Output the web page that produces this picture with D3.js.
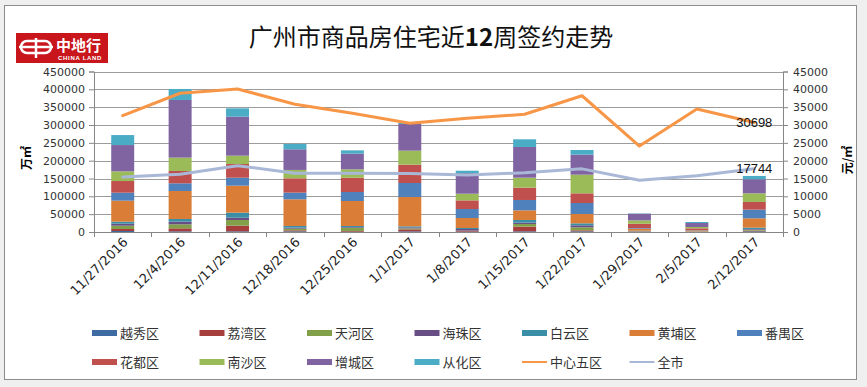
<!DOCTYPE html>
<html>
<head>
<meta charset="utf-8">
<script src="https://cdn.jsdelivr.net/npm/d3@7"></script>
<style>
  body { margin: 0; background: #efefef; }
  svg { display: block; }
</style>
</head>
<body>
<svg id="chart"></svg>
<script>
// week labels
let dates = ['11/27/2016', '12/4/2016', '12/11/2016', '12/18/2016', '12/25/2016', '1/1/2017',
             '1/8/2017', '1/15/2017', '1/22/2017', '1/29/2017', '2/5/2017', '2/12/2017'];

// signed area per district (m2), bottom to top of each stack
let yuexiu    = [2800, 1900, 1900, 1900, 900, 1900, 900, 1900, 1900, 500, 300, 1900];
let liwan     = [5600, 8400, 15900, 2800, 1900, 5600, 1900, 13100, 2800, 900, 500, 1900];
let tianhe    = [9300, 11200, 15900, 4700, 9300, 2800, 900, 7500, 8400, 900, 500, 2800];
let haizhu    = [5600, 7500, 6500, 2800, 1900, 2800, 4700, 3700, 5600, 900, 300, 1900];
let baiyun    = [5600, 7500, 14000, 4700, 2800, 2800, 2800, 7500, 5600, 500, 300, 3700];
let huangpu   = [58900, 78500, 75700, 74800, 70100, 82200, 28000, 27100, 26200, 5600, 2800, 26200];
let panyu     = [22400, 21500, 22400, 18700, 25200, 39300, 25200, 29000, 30800, 1900, 900, 24300];
let huadu     = [32700, 34600, 38300, 40200, 40200, 51400, 24300, 34600, 27100, 12100, 4700, 21500];
let nansha    = [27100, 37400, 23400, 23400, 23400, 39300, 18700, 28000, 52300, 9300, 3700, 24300];
let zengcheng = [73800, 161700, 109300, 57900, 43900, 74800, 57900, 86000, 56100, 18700, 11200, 39300];
let conghua   = [28000, 30800, 23400, 15000, 9300, 2800, 6500, 21500, 13100, 900, 2800, 9300];

// average price (yuan/m2)
let core5 = [32600, 38900, 40100, 35800, 33300, 30500, 31900, 33000, 38200, 24100, 34500, 30698];
let city  = [15400, 16200, 18600, 16500, 16500, 16400, 16000, 16600, 17700, 14500, 15800, 17744];

let leftTicks  = [0, 50000, 100000, 150000, 200000, 250000, 300000, 350000, 400000, 450000];
let rightTicks = [0, 5000, 10000, 15000, 20000, 25000, 30000, 35000, 40000, 45000];

let barSeries = [
  { name: '越秀区', values: yuexiu,    color: '#3f6ba3' },
  { name: '荔湾区', values: liwan,     color: '#a63f3c' },
  { name: '天河区', values: tianhe,    color: '#82a04a' },
  { name: '海珠区', values: haizhu,    color: '#674f86' },
  { name: '白云区', values: baiyun,    color: '#3a8fa7' },
  { name: '黄埔区', values: huangpu,   color: '#d97d37' },
  { name: '番禺区', values: panyu,     color: '#4f81bd' },
  { name: '花都区', values: huadu,     color: '#c0504d' },
  { name: '南沙区', values: nansha,    color: '#9bbb59' },
  { name: '增城区', values: zengcheng, color: '#8064a2' },
  { name: '从化区', values: conghua,   color: '#4bacc6' }
];
let lineSeries = [
  { name: '中心五区', values: core5, color: '#f79646' },
  { name: '全市',     values: city,  color: '#a8b8d6' }
];

let width = 867;
let height = 387;
let plotLeft = 94, plotRight = 783, plotTop = 71.5, plotBottom = 232;

let svg = d3.select('#chart').attr('width', width).attr('height', height);

// chart frame
svg.append('rect')
   .attr('x', 4.5).attr('y', 5.5)
   .attr('width', 852).attr('height', 374)
   .attr('fill', '#fff')
   .attr('stroke', '#8c8c8c');

// logo
let logo = svg.append('g').attr('transform', 'translate(16,33)');
logo.append('rect').attr('width', 92).attr('height', 30).attr('fill', '#c9161c');
logo.append('rect').attr('x', 5).attr('y', 8).attr('width', 30).attr('height', 12).attr('rx', 6)
    .attr('fill', 'none').attr('stroke', '#fff').attr('stroke-width', 2.5);
logo.append('line').attr('x1', 3).attr('x2', 37).attr('y1', 14).attr('y2', 14)
    .attr('stroke', '#fff').attr('stroke-width', 2.5);
logo.append('line').attr('x1', 20).attr('x2', 20).attr('y1', 5).attr('y2', 25)
    .attr('stroke', '#fff').attr('stroke-width', 2.5);
logo.append('text').attr('x', 40).attr('y', 17.5)
    .attr('fill', '#fff').attr('font-family', 'Noto Sans CJK SC').attr('font-weight', 'bold')
    .attr('font-size', 15).text('中地行');
logo.append('text').attr('x', 42).attr('y', 27)
    .attr('fill', '#fff').attr('font-family', 'Liberation Sans').attr('font-weight', 'bold')
    .attr('font-size', 6).attr('letter-spacing', 0.7).text('CHINA LAND');

// title
svg.append('text')
   .attr('x', 431).attr('y', 46)
   .attr('text-anchor', 'middle')
   .attr('font-family', 'Noto Sans CJK SC')
   .attr('font-size', 24)
   .attr('fill', '#111')
   .html('广州市商品房住宅近<tspan font-weight="bold">12</tspan>周签约走势');

// scales
let xScale = d3.scaleBand().domain(dates).range([plotLeft, plotRight]).padding(0);
let yLeft = d3.scaleLinear().domain([0, 450000]).range([plotBottom, plotTop]);
let yRight = d3.scaleLinear().domain([0, 45000]).range([plotBottom, plotTop]);
let bw = xScale.bandwidth() * 0.4;
let cx = (d) => xScale(d) + xScale.bandwidth() / 2;

// gridlines
svg.append('g')
   .selectAll('line')
   .data(leftTicks.slice(1))
   .enter()
   .append('line')
   .attr('x1', plotLeft).attr('x2', plotRight)
   .attr('y1', (d) => Math.round(yLeft(d)) + 0.5)
   .attr('y2', (d) => Math.round(yLeft(d)) + 0.5)
   .attr('stroke', '#9c9c9c');

// stacked bars
let table = dates.map((d, i) => {
  let row = { date: d };
  barSeries.forEach((s) => { row[s.name] = s.values[i]; });
  return row;
});
let stack = d3.stack().keys(barSeries.map((s) => s.name));
let layers = stack(table);

svg.append('g')
   .selectAll('g')
   .data(layers)
   .enter()
   .append('g')
   .attr('fill', (layer, i) => barSeries[i].color)
   .selectAll('rect')
   .data((layer) => layer)
   .enter()
   .append('rect')
   .attr('x', (d) => cx(d.data.date) - bw / 2)
   .attr('width', bw)
   .attr('y', (d) => yLeft(d[1]))
   .attr('height', (d) => yLeft(d[0]) - yLeft(d[1]));

// axes
let fmt = d3.format('d');
let axisLeft = d3.axisLeft(yLeft).tickValues(leftTicks).tickFormat(fmt).tickSize(5).tickPadding(4);
let axisRight = d3.axisRight(yRight).tickValues(rightTicks).tickFormat(fmt).tickSize(5).tickPadding(5);
let axisBottom = d3.axisBottom(xScale).tickSize(0).tickFormat('');

let gL = svg.append('g').attr('transform', 'translate(' + plotLeft + ',0)').call(axisLeft);
let gR = svg.append('g').attr('transform', 'translate(' + plotRight + ',0)').call(axisRight);
let gB = svg.append('g').attr('transform', 'translate(0,' + plotBottom + ')').call(axisBottom);

[gL, gR].forEach((g) => {
  g.select('.domain').attr('stroke', '#868686');
  g.selectAll('.tick line').attr('stroke', '#868686');
  g.selectAll('.tick text')
   .attr('font-family', 'DejaVu Sans')
   .attr('font-size', 11)
   .attr('fill', '#333');
});
gB.select('.domain').attr('stroke', '#868686');

// category separators on x axis
svg.append('g')
   .selectAll('line')
   .data(dates.concat(['end']))
   .enter()
   .append('line')
   .attr('x1', (d, i) => Math.round(plotLeft + i * xScale.step()) + 0.5)
   .attr('x2', (d, i) => Math.round(plotLeft + i * xScale.step()) + 0.5)
   .attr('y1', plotBottom)
   .attr('y2', plotBottom + 5)
   .attr('stroke', '#868686');

// rotated date labels
svg.append('g')
   .selectAll('text')
   .data(dates)
   .enter()
   .append('text')
   .attr('transform', (d) => 'translate(' + (cx(d) + 6) + ',' + (plotBottom + 11) + ') rotate(-45)')
   .attr('text-anchor', 'end')
   .attr('font-family', 'DejaVu Sans')
   .attr('font-size', 13)
   .attr('fill', '#222')
   .text((d) => d);

// lines on right axis
let line = d3.line()
             .x((d, i) => cx(dates[i]))
             .y((d) => yRight(d));

svg.append('g')
   .selectAll('path')
   .data(lineSeries)
   .enter()
   .append('path')
   .attr('d', (s) => line(s.values))
   .attr('fill', 'none')
   .attr('stroke', (s) => s.color)
   .attr('stroke-width', 3)
   .attr('stroke-linejoin', 'round')
   .attr('stroke-linecap', 'round');

// value labels at the last week
let last = dates[dates.length - 1];
svg.append('g')
   .selectAll('text')
   .data(lineSeries)
   .enter()
   .append('text')
   .attr('x', cx(last))
   .attr('y', (s) => yRight(s.values[s.values.length - 1]))
   .attr('dy', '0.35em')
   .attr('text-anchor', 'middle')
   .attr('font-family', 'Liberation Sans')
   .attr('font-size', 13)
   .attr('fill', '#111')
   .text((s) => s.values[s.values.length - 1]);

// axis titles
svg.append('text')
   .attr('transform', 'translate(31,158) rotate(-90)')
   .attr('text-anchor', 'middle')
   .attr('font-family', 'Noto Sans CJK SC')
   .attr('font-weight', 'bold')
   .attr('font-size', 12)
   .text('万㎡');
svg.append('text')
   .attr('transform', 'translate(852,160) rotate(-90)')
   .attr('text-anchor', 'middle')
   .attr('font-family', 'Noto Sans CJK SC')
   .attr('font-weight', 'bold')
   .attr('font-size', 12)
   .text('元/㎡');

// legend
let legendItems = barSeries.map((s) => ({ name: s.name, color: s.color, type: 'bar' }))
  .concat(lineSeries.map((s) => ({ name: s.name, color: s.color, type: 'line' })));

let legend = svg.append('g')
   .selectAll('g')
   .data(legendItems)
   .enter()
   .append('g')
   .attr('transform', (d, i) => 'translate(' + (92 + (i % 7) * 107.5) + ',' + (i < 7 ? 333 : 362) + ')');

legend.append('rect')
   .attr('x', 0)
   .attr('y', (d) => d.type === 'bar' ? -3 : -1)
   .attr('width', 25)
   .attr('height', (d) => d.type === 'bar' ? 6 : 2)
   .attr('fill', (d) => d.color);

legend.append('text')
   .attr('x', 28)
   .attr('y', 0)
   .attr('dy', '0.36em')
   .attr('font-family', 'Noto Sans CJK SC')
   .attr('font-size', 13)
   .attr('fill', '#333')
   .text((d) => d.name);
</script>
</body>
</html>
